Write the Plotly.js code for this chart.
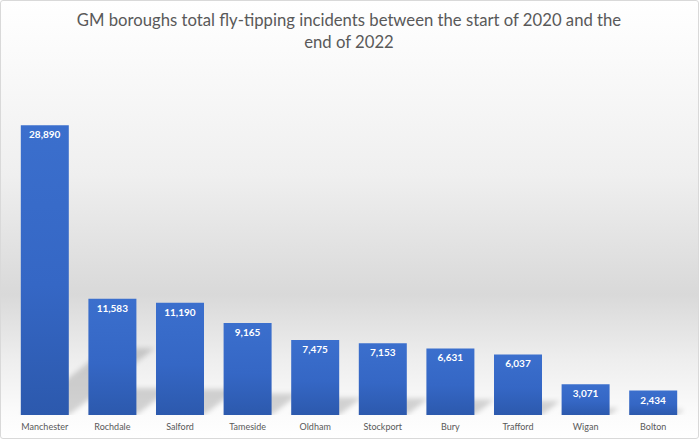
<!DOCTYPE html>
<html>
<head>
<meta charset="utf-8">
<script src="https://cdn.plot.ly/plotly-3.0.1.min.js"></script>
<style>
  html, body { margin: 0; padding: 0; background: #fff; }
  #wrap { position: relative; width: 699px; height: 439px;
    background: linear-gradient(to bottom, #ffffff 0%, #fafafa 14%, #efefef 40%, #d9d9d9 67%, #eeeeee 82%, #fbfbfb 94%, #ffffff 100%); }
  #chart { position: absolute; left: 0; top: 0; width: 699px; height: 439px; }
  #frame { position: absolute; left: 0; top: 0; width: 697px; height: 437px; border: 1px solid #d9d9d9; border-radius: 3px; pointer-events: none; }
  #chart .shapelayer path { filter: blur(2.5px); }
</style>
</head>
<body>
<div id="wrap"><div id="chart"></div><div id="frame"></div></div>
<script>
const boroughs = ["Manchester", "Rochdale", "Salford", "Tameside", "Oldham", "Stockport", "Bury", "Trafford", "Wigan", "Bolton"];
const incidents = [28890, 11583, 11190, 9165, 7475, 7153, 6631, 6037, 3071, 2434];
const titleText = "GM boroughs total fly-tipping incidents between the start of 2020 and the<br>end of 2022";

const idx = boroughs.map((_, i) => i);
const labels = incidents.map(v => v.toLocaleString("en-GB"));

// perspective shadows derived from the values
const hw = 0.355;
const shapes = incidents.map((v, i) => {
  const dy = 0.23 * v;
  const dx = v * 4.4e-5;
  return {
    type: "path", xref: "x", yref: "y", layer: "below",
    path: `M ${i - hw} 0 L ${i + hw} 0 L ${i + hw + dx} ${dy} L ${i - hw + dx} ${dy} Z`,
    fillcolor: "rgba(0,0,0,0.16)", line: { width: 0 }
  };
});

const trace = {
  type: "bar",
  x: idx,
  y: incidents,
  width: 0.71,
  text: labels,
  textposition: "inside",
  insidetextanchor: "end",
  constraintext: "none",
  textangle: 0,
  insidetextfont: { family: "Lato, 'DejaVu Sans', sans-serif", size: 10, color: "#ffffff", weight: "bold" },
  marker: { color: "#3466c4", line: { width: 0 } },
  hoverinfo: "skip"
};

const layout = {
  width: 699, height: 439,
  margin: { l: 11, r: 12, t: 114, b: 24.3, pad: 0 },
  paper_bgcolor: "rgba(0,0,0,0)",
  plot_bgcolor: "rgba(0,0,0,0)",
  showlegend: false,
  title: {
    text: titleText,
    font: { family: "Lato, 'Open Sans', sans-serif", size: 16.7, color: "#595959" },
    x: 0.5, xanchor: "center", xref: "paper",
    y: 1 - 26 / 439, yanchor: "middle", yref: "container"
  },
  xaxis: {
    range: [-0.5, 9.5], fixedrange: true,
    tickmode: "array", tickvals: idx, ticktext: boroughs,
    showgrid: false, zeroline: false, showline: false, ticks: "",
    ticklabelstandoff: 5,
    tickfont: { family: "Lato, 'DejaVu Sans', sans-serif", size: 9, color: "#595959" }
  },
  yaxis: {
    range: [0, 30000], visible: false, showgrid: false, zeroline: false, fixedrange: true
  },
  shapes: shapes
};

Plotly.newPlot("chart", [trace], layout, { displayModeBar: false, staticPlot: true }).then(gd => {
  const svg = gd.querySelector("svg.main-svg");
  const ns = "http://www.w3.org/2000/svg";
  let defs = svg.querySelector("defs");
  if (!defs) { defs = document.createElementNS(ns, "defs"); svg.insertBefore(defs, svg.firstChild); }
  const lg = document.createElementNS(ns, "linearGradient");
  lg.setAttribute("id", "barGrad");
  lg.setAttribute("x1", "0"); lg.setAttribute("y1", "0");
  lg.setAttribute("x2", "0"); lg.setAttribute("y2", "1");
  [["0%", "#3b6fcd"], ["55%", "#3567c5"], ["100%", "#2c59ad"]].forEach(([o, c]) => {
    const s = document.createElementNS(ns, "stop");
    s.setAttribute("offset", o); s.setAttribute("stop-color", c);
    lg.appendChild(s);
  });
  defs.appendChild(lg);
  gd.querySelectorAll(".barlayer .point path").forEach(p => { p.style.fill = "url(#barGrad)"; });
});
</script>
</body>
</html>
